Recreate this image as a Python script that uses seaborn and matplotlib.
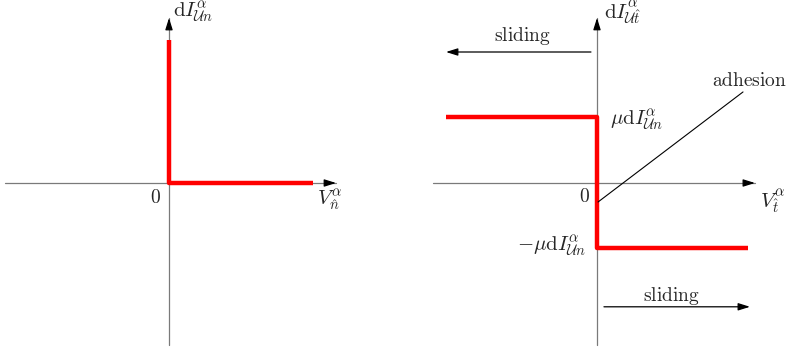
import numpy as np
import pandas as pd
import matplotlib
matplotlib.use("Agg")
import matplotlib.pyplot as plt
import seaborn as sns

# ------------------------------------------------------------
# data (normalised units: contact law graphs)
# ------------------------------------------------------------

# Signorini condition: impulse vs normal velocity
signorini_v = [0.0, 0.0, 1.0]
signorini_i = [1.0, 0.0, 0.0]

# Coulomb friction: tangential impulse vs tangential velocity (+/- mu dI)
coulomb_v = [-1.0, 0.0, 0.0, 1.0]
coulomb_i = [1.0, 1.0, -1.0, -1.0]

# adhesion pointer line
adhesion_v = [0.007, 0.967]
adhesion_i = [-0.29, 1.39]

# sliding arrows (start, end)
sliding_top_v = [-0.04, -1.0]
sliding_top_i = [2.0, 2.0]
sliding_bot_v = [0.046, 1.013]
sliding_bot_i = [-1.89, -1.89]

# axis extents (x_min, x_max, y_min, y_max)
left_axis = [-1.139, 1.16, -1.133, 1.154]
right_axis = [-1.086, 1.046, -2.47, 2.52]

plt.rcParams["mathtext.fontset"] = "cm"
sns.set_style("white")

fig = plt.figure(figsize=(7.87, 3.54), dpi=100)
ax1 = fig.add_axes([0, 0, 393 / 787, 1])
ax2 = fig.add_axes([393 / 787, 0, 394 / 787, 1])

ax1.set_xlim(-169 / 144, 224 / 144)
ax1.set_ylim(-171 / 143, 183 / 143)
ax2.set_xlim(-204 / 151, 190 / 151)
ax2.set_ylim(-171 / 65.5, 183 / 65.5)

FS = 14
FS_MATH = 15
AXIS_GRAY = "#7a7a7a"
ARROW = "-|>,head_length=0.7,head_width=0.22"


def draw_axes(ax, ext):
    x0, x1, y0, y1 = ext
    ax.plot([x0, x1], [0, 0], color=AXIS_GRAY, lw=0.9, clip_on=False)
    ax.plot([0, 0], [y0, y1], color=AXIS_GRAY, lw=0.9, clip_on=False)
    hx = (x1 - x0) * 0.03
    hy = (y1 - y0) * 0.03
    ax.annotate("", xy=(x1, 0), xytext=(x1 - hx, 0),
                arrowprops=dict(arrowstyle=ARROW, color="black", lw=0.9,
                                shrinkA=0, shrinkB=0))
    ax.annotate("", xy=(0, y1), xytext=(0, y1 - hy),
                arrowprops=dict(arrowstyle=ARROW, color="black", lw=0.9,
                                shrinkA=0, shrinkB=0))


# ---------------- left: Signorini ----------------
draw_axes(ax1, left_axis)
df_sig = pd.DataFrame({"v": signorini_v, "i": signorini_i})
sns.lineplot(data=df_sig, x="v", y="i", ax=ax1, sort=False, estimator=None,
             color="red", lw=3.2, solid_capstyle="butt")
ax1.text(-0.097, -0.098, r"$0$", fontsize=FS, ha="center", va="center")
ax1.text(1.118, -0.119, r"$V^{\alpha}_{\hat{n}}$", fontsize=FS_MATH,
         ha="center", va="center")
ax1.text(0.167, 1.196, r"$\mathrm{d}I^{\alpha}_{\mathcal{U}n}$", fontsize=FS_MATH,
         ha="center", va="center")

# ---------------- right: Coulomb ----------------
draw_axes(ax2, right_axis)
df_cou = pd.DataFrame({"v": coulomb_v, "i": coulomb_i})
sns.lineplot(data=df_cou, x="v", y="i", ax=ax2, sort=False, estimator=None,
             color="red", lw=3.2, solid_capstyle="butt")
df_adh = pd.DataFrame({"v": adhesion_v, "i": adhesion_i})
sns.lineplot(data=df_adh, x="v", y="i", ax=ax2, sort=False, estimator=None,
             color="black", lw=0.8)

for sv, si in [(sliding_top_v, sliding_top_i), (sliding_bot_v, sliding_bot_i)]:
    ax2.annotate("", xy=(sv[1], si[1]), xytext=(sv[0], si[0]),
                 arrowprops=dict(arrowstyle=ARROW, color="black", lw=0.9,
                                 shrinkA=0, shrinkB=0))

ax2.text(-0.086, -0.21, r"$0$", fontsize=FS, ha="center", va="center")
ax2.text(1.166, -0.29, r"$V^{\alpha}_{\hat{t}}$", fontsize=FS_MATH,
         ha="center", va="center")
ax2.text(0.166, 2.6, r"$\mathrm{d}I^{\alpha}_{\mathcal{U}\hat{t}}$", fontsize=FS_MATH,
         ha="center", va="center")
ax2.text(0.258, 0.96, r"$\mu\mathrm{d}I^{\alpha}_{\mathcal{U}n}$", fontsize=FS_MATH,
         ha="center", va="center")
ax2.text(-0.3, -0.96, r"$-\mu\mathrm{d}I^{\alpha}_{\mathcal{U}n}$", fontsize=FS_MATH,
         ha="center", va="center")
ax2.text(1.007, 1.57, r"$\mathrm{adhesion}$", fontsize=FS, ha="center", va="center")
ax2.text(-0.497, 2.24, r"$\mathrm{sliding}$", fontsize=FS, ha="center", va="center")
ax2.text(0.49, -1.73, r"$\mathrm{sliding}$", fontsize=FS, ha="center", va="center")

for ax in (ax1, ax2):
    ax.set_xlabel("")
    ax.set_ylabel("")
    ax.axis("off")

fig.savefig("out.png", dpi=100)
